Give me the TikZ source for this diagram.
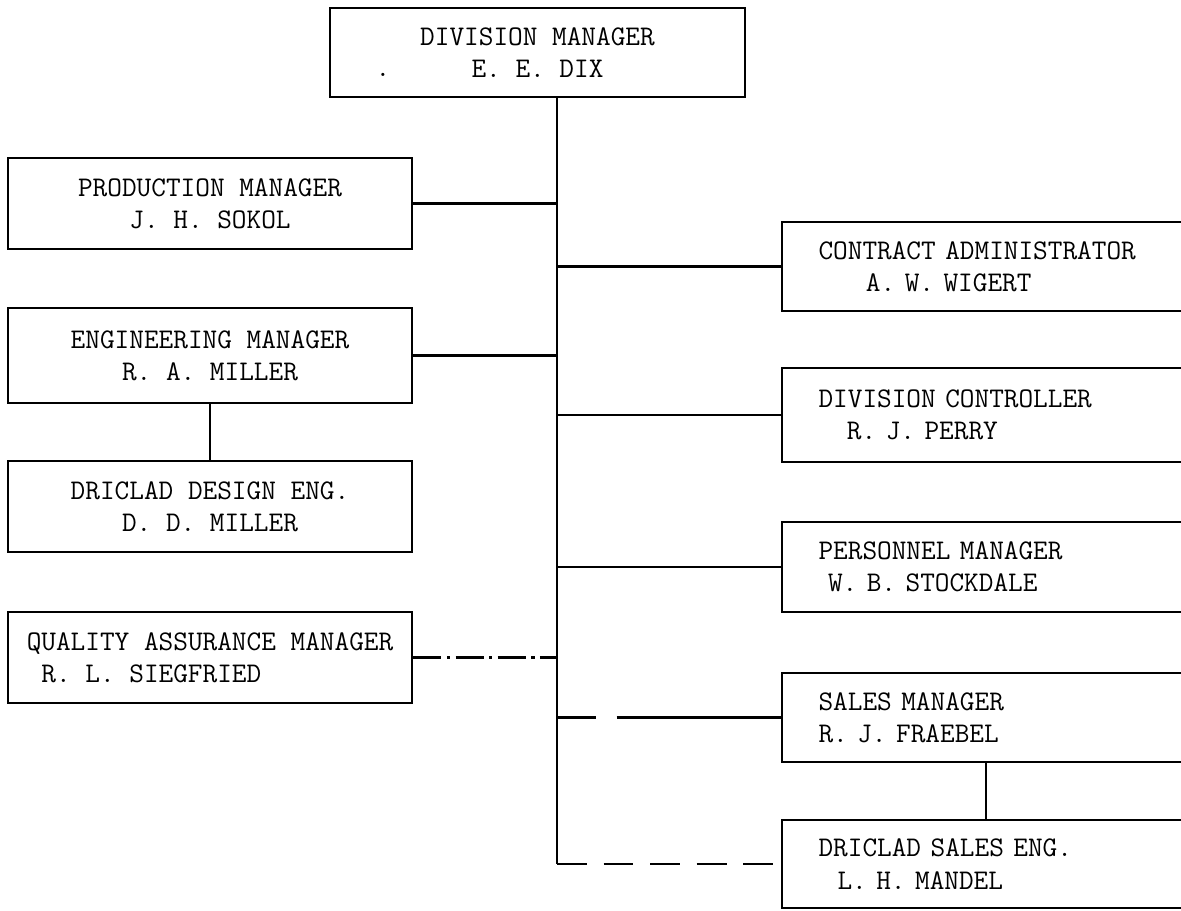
\documentclass[tikz,border=0pt]{standalone}
\usepackage{fontspec}

\begin{document}
\begin{tikzpicture}[x=0.02cm, y=-0.02cm,
        post/.style={draw, line width=1.6pt, inner sep=0pt,
            font=\ttfamily\addfontfeatures{FakeBold=1}\fontsize{16.2}{18.4}\selectfont},
        leftpost/.style={post, minimum width=8.08cm, align=center},
        rightpost/.style={post, text width=6.7cm, inner xsep=0.73cm, align=left},
        wire/.style={line width=1.6pt},
        brokenwire/.style={wire, dash pattern=on 16pt off 3pt on 2pt off 3pt},
        gapwire/.style={wire, dash pattern=on 22pt off 12pt on 100pt off 0pt},
        dashwire/.style={wire, dash pattern=on 17pt off 9.5pt}]

        \useasboundingbox (0,0) rectangle (1181,911);
        \clip (0,0) rectangle (1181,911);

        \node[post, minimum width=8.3cm, minimum height=1.78cm, align=center]
            (divmgr) at (537.5,52.5) {DIVISION MANAGER\\E. E. DIX};
        \node[post, draw=none] (speck) at (383,75) {.};

        \node[leftpost, minimum height=1.82cm] (prodmgr) at (210,203.5) {PRODUCTION MANAGER\\J. H. SOKOL};
        \node[leftpost, minimum height=1.9cm] (engmgr) at (210,355.5) {ENGINEERING MANAGER\\R. A. MILLER};
        \node[leftpost, minimum height=1.82cm] (designeng) at (210,506.5) {DRICLAD DESIGN ENG.\\D. D. MILLER};
        \node[leftpost, minimum height=1.82cm, align=left] (qamgr) at (210,657.5) {QUALITY ASSURANCE MANAGER\\\ R. L. SIEGFRIED};

        \node[rightpost, minimum height=1.78cm] (contract) at (986,266.5) {CONTRACT ADMINISTRATOR\\\ \ \ \ \ A. W. WIGERT};
        \node[rightpost, minimum height=1.88cm] (controller) at (986,415) {DIVISION CONTROLLER\\\ \ \ R. J. PERRY};
        \node[rightpost, minimum height=1.8cm] (personnel) at (986,567) {PERSONNEL MANAGER\\\ W. B. STOCKDALE};
        \node[rightpost, minimum height=1.78cm] (salesmgr) at (986,717.5) {SALES MANAGER\\R. J. FRAEBEL};
        \node[rightpost, minimum height=1.76cm] (salesseng) at (986,864) {DRICLAD SALES ENG.\\\ \ L. H. MANDEL};

        \coordinate (trunk) at (557,97);
        \draw[wire] (divmgr.south -| trunk) -- (trunk |- salesseng.west);
        \draw[dashwire] (trunk |- salesseng.west) -- (salesseng.west);

        \draw[wire] (prodmgr.east) -- (prodmgr.east -| trunk);
        \draw[wire] (engmgr.east) -- (engmgr.east -| trunk);
        \draw[brokenwire] (qamgr.east) -- (qamgr.east -| trunk);
        \draw[wire] (engmgr.south) -- (designeng.north);

        \draw[wire] (trunk |- contract.west) -- (contract.west);
        \draw[wire] (trunk |- controller.west) -- (controller.west);
        \draw[wire] (trunk |- personnel.west) -- (personnel.west);
        \draw[gapwire] (trunk |- salesmgr.west) -- (salesmgr.west);
        \draw[wire] (salesmgr.south) -- (salesseng.north);
    \end{tikzpicture}
\end{document}
